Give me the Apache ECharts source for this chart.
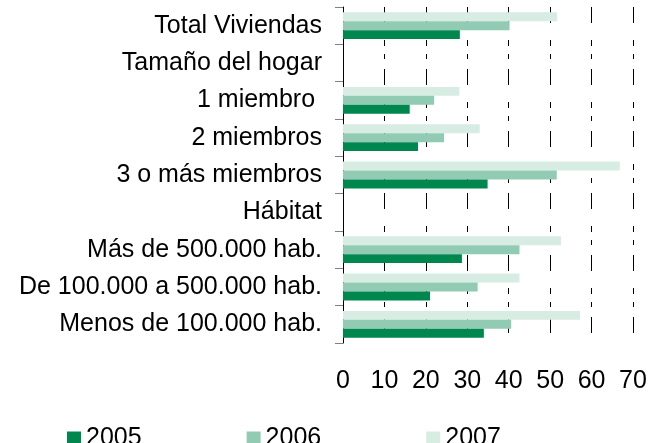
<!DOCTYPE html>
<html>
<head>
<meta charset="utf-8">
<script src="https://cdn.jsdelivr.net/npm/echarts@6/dist/echarts.min.js"></script>
<style>
  html, body { margin: 0; padding: 0; background: #fff; }
  #main { width: 662px; height: 443px; }
</style>
</head>
<body>
<div id="main"></div>
<script>
// categories, top to bottom
var categories = [
  'Total Viviendas',
  'Tamaño del hogar',
  '1 miembro ',
  '2 miembros',
  '3 o más miembros',
  'Hábitat',
  'Más de 500.000 hab.',
  'De 100.000 a 500.000 hab.',
  'Menos de 100.000 hab.'
];
var years = ['2005', '2006', '2007'];
var values2005 = [28.2, null, 16.1, 18.1, 34.9, null, 28.7, 21.0, 34.0];
var values2006 = [40.2, null, 22.0, 24.4, 51.6, null, 42.6, 32.5, 40.6];
var values2007 = [51.7, null, 28.1, 33.0, 66.8, null, 52.6, 42.6, 57.2];
var xTicks = [0, 10, 20, 30, 40, 50, 60, 70];

var colors = { '2005': '#00874d', '2006': '#92cbb3', '2007': '#d7ece3' };
var font = '"Liberation Sans", Arial, sans-serif';

var myChart = echarts.init(document.getElementById('main'));

var seriesData = { '2005': values2005, '2006': values2006, '2007': values2007 };

// 2007 drawn first so it sits on top of each group (axis is inverted)
var drawOrder = years.slice().reverse();

myChart.setOption({
    backgroundColor: '#ffffff',
    animation: false,
    legend: {
        data: years,
        left: 67,
        top: 426,
        padding: 0,
        itemWidth: 14,
        itemHeight: 14,
        itemGap: 105,
        icon: 'rect',
        textStyle: { fontSize: 25, color: '#000', fontFamily: font }
    },
    grid: {
        left: 343,
        right: 29,
        top: 7,
        bottom: 100,
        containLabel: false
    },
    xAxis: {
        type: 'value',
        min: xTicks[0],
        max: xTicks[xTicks.length - 1],
        interval: 10,
        axisLine: { show: false },
        axisTick: { show: false },
        axisLabel: { fontSize: 25, color: '#000', fontFamily: font, margin: 26 },
        splitLine: {
            show: true,
            lineStyle: { color: '#000', width: 1, type: [16, 17, 6, 8, 5, 10] }
        }
    },
    yAxis: {
        type: 'category',
        data: categories,
        inverse: true,
        axisLine: { show: true, lineStyle: { color: '#000', width: 1 } },
        axisTick: { show: true, length: 8, lineStyle: { color: '#808080' } },
        axisLabel: { fontSize: 25, color: '#000', fontFamily: font, margin: 21 },
        splitLine: { show: false }
    },
    series: drawOrder.map(function (y) {
        return {
            name: y,
            type: 'bar',
            data: seriesData[y],
            itemStyle: { color: colors[y] },
            barGap: '0%',
            barCategoryGap: '28%'
        };
    })
});
</script>
</body>
</html>
